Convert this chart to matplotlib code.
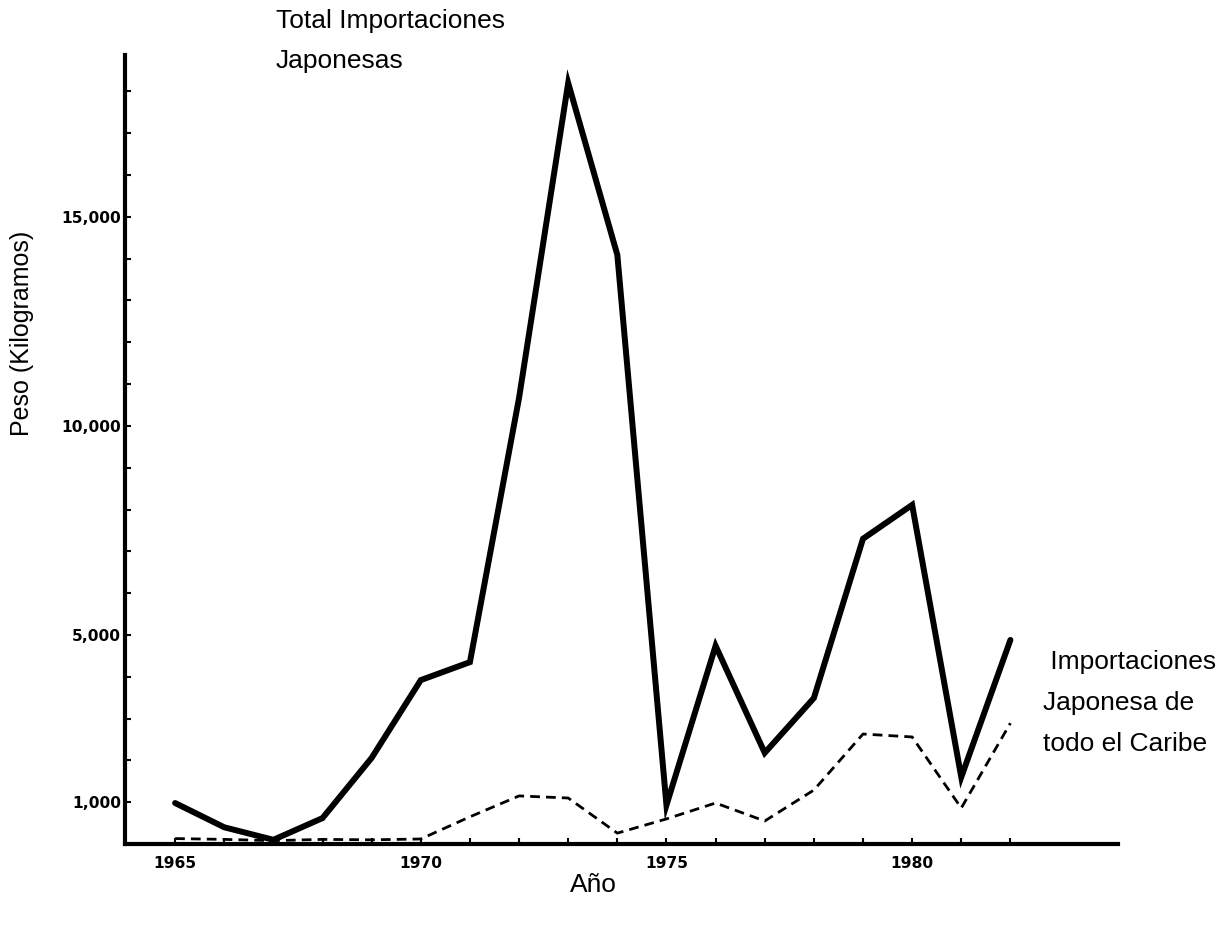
import matplotlib.pyplot as plt
from matplotlib.ticker import MultipleLocator, FixedLocator

plt.rcParams['font.family'] = ['Liberation Sans', 'DejaVu Sans']

years = list(range(1965, 1983))
total = [980, 400, 100, 620, 2060, 3920, 4350, 10670, 18200, 14090,
         930, 4740, 2180, 3490, 7300, 8110, 1600, 4880]
caribe = [130, 110, 80, 110, 100, 120, 650, 1150, 1100, 260,
          600, 980, 550, 1290, 2630, 2560, 860, 2890]

x_ticks = [1965, 1970, 1975, 1980]
y_ticks = [1000, 5000, 10000, 15000]
y_labels = ['1,000', '5,000', '10,000', '15,000']

fig = plt.figure(figsize=(12.31, 9.26), dpi=100)
ax = fig.add_axes([125 / 1231, 82 / 926, 993 / 1231, 789 / 926])

ax.plot(years, total, color='black', lw=4.3, solid_capstyle='round', solid_joinstyle='miter')
ax.plot(years, caribe, color='black', lw=2.0, dashes=(3.5, 2.2))

ax.set_xlim(1963.98, 1984.19)
ax.set_ylim(0, 18870)

for s in ['top', 'right']:
    ax.spines[s].set_visible(False)
for s in ['left', 'bottom']:
    ax.spines[s].set_linewidth(3)

ax.xaxis.set_major_locator(FixedLocator(x_ticks))
ax.xaxis.set_minor_locator(FixedLocator(years))
ax.yaxis.set_major_locator(FixedLocator(y_ticks))
ax.yaxis.set_minor_locator(MultipleLocator(1000))
ax.set_yticklabels(y_labels)
ax.tick_params(which='both', direction='in', length=4, width=1.5)
ax.tick_params(axis='x', pad=9)
ax.tick_params(axis='y', pad=3)
for lab in ax.get_xticklabels() + ax.get_yticklabels():
    lab.set_fontfamily('DejaVu Sans')
    lab.set_fontweight('bold')
    lab.set_fontsize(11.2)

fig.text(593 / 1231, 1 - 885 / 926, 'Año', fontsize=19, ha='center', va='center')
fig.text(22 / 1231, 1 - 333 / 926, 'Peso (Kilogramos)', fontsize=18, rotation=90,
         ha='center', va='center')
fig.text(276 / 1231, 1 - 41 / 926, 'Total Importaciones\nJaponesas', fontsize=19,
         ha='left', va='center', linespacing=1.87)
fig.text(1043 / 1231, 1 - 703 / 926, ' Importaciones\nJaponesa de\ntodo el Caribe',
         fontsize=19, ha='left', va='center', linespacing=1.87)

fig.savefig('out.png', dpi=100)
